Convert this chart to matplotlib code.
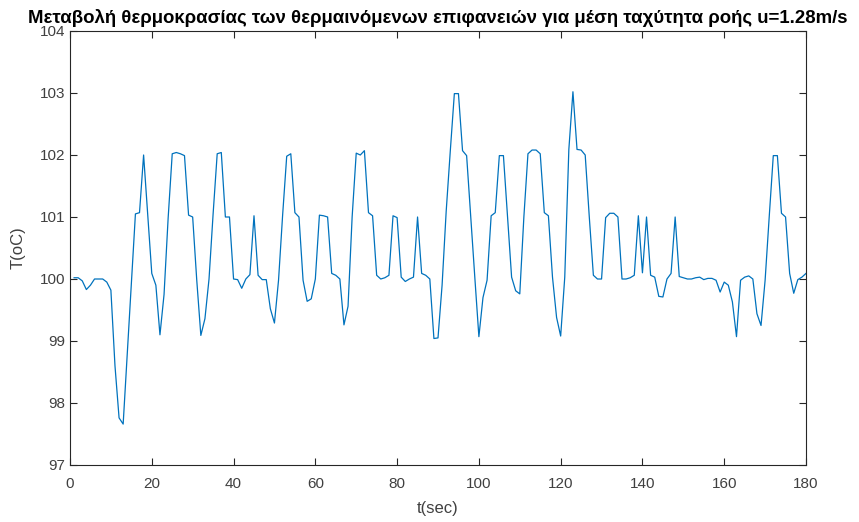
import matplotlib
matplotlib.use('Agg')
import matplotlib.pyplot as plt
import numpy as np

plt.rcParams['font.family'] = ['Liberation Sans', 'DejaVu Sans']

# time in seconds and surface temperature
t = np.arange(1, 181)
T = [100.02, 100.02, 99.97, 99.83, 99.9, 100.0, 100.0, 100.0, 99.95, 99.82,
     98.6, 97.76, 97.66, 98.8, 99.93, 101.05, 101.07, 102.0, 101.05, 100.09,
     99.9, 99.1, 99.75, 100.98, 102.02, 102.04, 102.02, 101.99, 101.03, 101.0,
     99.98, 99.09, 99.36, 100.0, 101.05, 102.02, 102.04, 101.0, 101.0, 100.0,
     99.99, 99.85, 100.0, 100.07, 101.02, 100.06, 99.99, 99.99, 99.52, 99.29,
     99.98, 101.03, 101.98, 102.02, 101.07, 101.0, 99.98, 99.64, 99.68, 100.0,
     101.03, 101.02, 101.0, 100.09, 100.06, 100.0, 99.26, 99.56, 101.0, 102.03,
     102.0, 102.07, 101.07, 101.02, 100.06, 100.0, 100.02, 100.06, 101.02, 100.99,
     100.03, 99.96, 100.0, 100.03, 101.0, 100.09, 100.06, 100.0, 99.04, 99.05,
     99.9, 101.09, 102.06, 102.99, 102.99, 102.07, 101.99, 101.0, 100.03, 99.07,
     99.7, 99.98, 101.02, 101.07, 101.99, 101.99, 101.0, 100.03, 99.81, 99.76,
     101.0, 102.02, 102.08, 102.08, 102.02, 101.07, 101.02, 100.03, 99.38, 99.08,
     100.03, 102.09, 103.02, 102.09, 102.08, 102.0, 101.0, 100.06, 100.0, 100.0,
     100.99, 101.06, 101.06, 101.0, 100.0, 100.0, 100.02, 100.06, 101.02, 100.1,
     101.0, 100.06, 100.03, 99.72, 99.71, 100.0, 100.09, 101.0, 100.04, 100.02,
     100.0, 100.0, 100.02, 100.03, 99.99, 100.01, 100.01, 99.98, 99.79, 99.95,
     99.9, 99.63, 99.07, 99.98, 100.03, 100.05, 100.0, 99.44, 99.25, 99.98,
     101.0, 101.99, 101.99, 101.06, 101.0, 100.09, 99.77, 99.99, 100.03, 100.09]

xticks = np.arange(0, 181, 20)
yticks = np.arange(97, 105, 1)

fig = plt.figure(figsize=(8.59, 5.22), dpi=100)
ax = fig.add_axes([70 / 859, 1 - 465 / 522, 736 / 859, 434 / 522])

ax.plot(t, T, color='#0072BD', lw=0.9)

ax.set_xlim(0, 180)
ax.set_ylim(97, 104)
ax.set_xticks(xticks)
ax.set_yticks(yticks)

axcol = '#262626'
for s in ax.spines.values():
    s.set_color(axcol)
    s.set_linewidth(0.8)
ax.tick_params(direction='in', top=True, right=True, length=5, width=0.8,
               color=axcol, labelcolor='#404040', labelsize=11)
ax.tick_params(axis='x', pad=9)

ax.set_xlabel('t(sec)', fontsize=12, color='#404040', labelpad=7)
ax.set_ylabel('T(oC)', fontsize=12, color='#404040', labelpad=10)
ax.set_title('Μεταβολή θερμοκρασίας των θερμαινόμενων επιφανειών για μέση ταχύτητα ροής u=1.28m/s',
             fontsize=13.4, fontweight='bold', color='black', pad=6)

fig.savefig('out.png', dpi=100)
